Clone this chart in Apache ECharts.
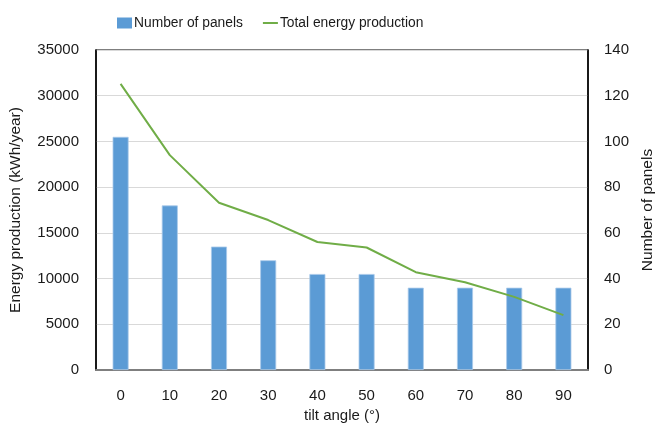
<!DOCTYPE html>
<html>
<head>
<meta charset="utf-8">
<script src="https://cdn.jsdelivr.net/npm/echarts@6/dist/echarts.min.js"></script>
<style>
  html, body { margin: 0; padding: 0; background: #fff; }
  #chart { width: 655px; height: 430px; }
</style>
</head>
<body>
<div id="chart"></div>
<script>
// Tilt angle categories (degrees)
const tiltAngles = ['0', '10', '20', '30', '40', '50', '60', '70', '80', '90'];
// Number of panels that fit at each tilt angle (right axis)
const panelCounts = [102, 72, 54, 48, 42, 42, 36, 36, 36, 36];
// Total yearly energy production in kWh/year (left axis)
const energyProduction = [31300, 23500, 18300, 16400, 14000, 13400, 10700, 9600, 8000, 6000];

const FONT = 'Liberation Sans, Arial, sans-serif';
const TEXT = '#1a1a1a';

const chart = echarts.init(document.getElementById('chart'), null, { renderer: 'canvas' });

chart.setOption({
  animation: false,
  textStyle: { fontFamily: FONT },
  legend: {
    top: 11,
    left: 112,
    itemWidth: 15,
    itemHeight: 11,
    itemGap: 20,
    textStyle: { fontFamily: FONT, fontSize: 13.8, color: TEXT, padding: [0, 0, 0, -3] },
    data: [
      { name: 'Number of panels', icon: 'rect', itemStyle: { borderWidth: 0 } },
      // plain short line for the line series entry
      { name: 'Total energy production', icon: 'path://M0,0H30V4H0Z', itemStyle: { color: '#70ad47' } }
    ]
  },
  grid: {
    left: 96, right: 67, top: 50, bottom: 60,
    outerBoundsMode: 'none',
    show: true,
    borderColor: '#000',
    borderWidth: 1.2
  },
  xAxis: {
    type: 'category',
    data: tiltAngles,
    name: 'tilt angle (°)',
    nameLocation: 'middle',
    nameGap: 38,
    nameTextStyle: { fontFamily: FONT, fontSize: 15, color: TEXT },
    axisTick: { show: false },
    axisLine: { lineStyle: { color: '#7f7f7f', width: 2 } },
    axisLabel: { fontFamily: FONT, fontSize: 15, color: TEXT, margin: 18 }
  },
  yAxis: [
    {
      type: 'value',
      min: 0, max: 35000, interval: 5000,
      name: 'Energy production (kWh/year)',
      nameLocation: 'middle',
      nameRotate: 90,
      nameGap: 72,
      nameTextStyle: { fontFamily: FONT, fontSize: 15.5, color: TEXT },
      axisLine: { show: true, lineStyle: { color: '#000', width: 1.5 } },
      axisTick: { show: false },
      axisLabel: { fontFamily: FONT, fontSize: 15, color: TEXT, margin: 17, formatter: v => String(v) },
      splitLine: { lineStyle: { color: '#d9d9d9', width: 1 } }
    },
    {
      type: 'value',
      min: 0, max: 140, interval: 20,
      name: 'Number of panels',
      nameLocation: 'middle',
      nameRotate: 90,
      nameGap: 52,
      nameTextStyle: { fontFamily: FONT, fontSize: 15.5, color: TEXT },
      axisLine: { show: true, lineStyle: { color: '#000', width: 1.5 } },
      axisTick: { show: false },
      axisLabel: { fontFamily: FONT, fontSize: 15, color: TEXT, margin: 16 },
      splitLine: { show: false }
    }
  ],
  series: [
    {
      name: 'Number of panels',
      type: 'bar',
      yAxisIndex: 1,
      data: panelCounts,
      barWidth: 16,
      itemStyle: { color: '#5b9bd5', borderColor: '#a9c9ea', borderWidth: 0.8 }
    },
    {
      name: 'Total energy production',
      type: 'line',
      yAxisIndex: 0,
      data: energyProduction,
      symbol: 'none',
      lineStyle: { color: '#70ad47', width: 2 },
      itemStyle: { color: '#70ad47' }
    }
  ]
});
</script>
</body>
</html>
